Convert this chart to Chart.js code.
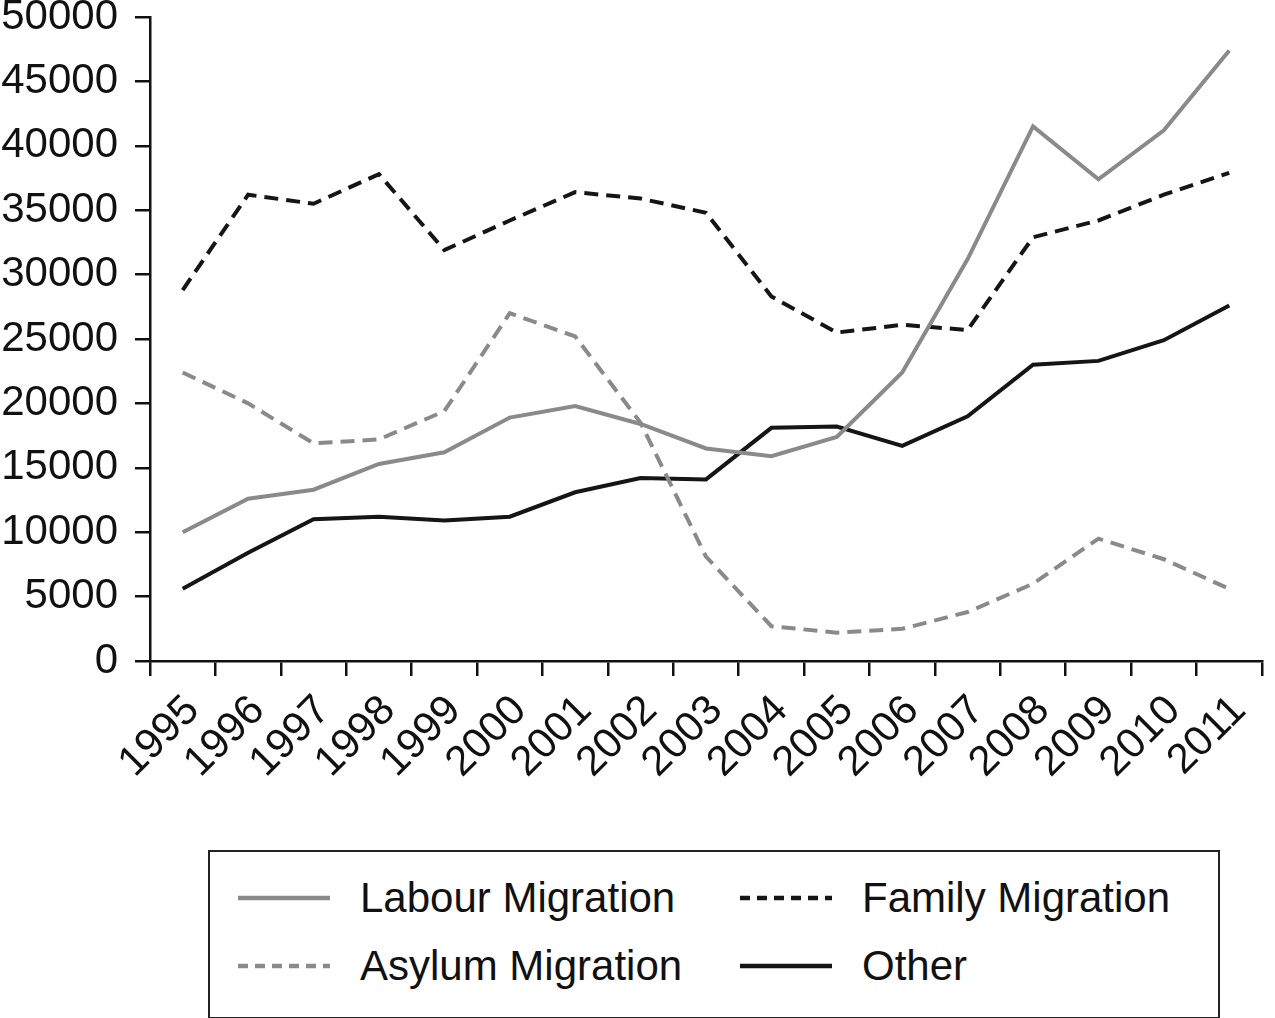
<!DOCTYPE html>
<html>
<head>
<meta charset="utf-8">
<script src="https://cdn.jsdelivr.net/npm/chart.js@4.4.0/dist/chart.umd.min.js"></script>
<style>
    body { margin: 0; background: #fff; font-family: "Liberation Sans", Arial, sans-serif; overflow: hidden; }
    #wrap { position: absolute; left: 0; top: -16px; width: 1275px; height: 856px; }
    #legend { position: absolute; left: 208px; top: 850px; width: 1008px; height: 165px; border: 2px solid #222; }
    .item { position: absolute; height: 50px; display: flex; align-items: center; font-size: 42px; color: #111; white-space: nowrap; }
    .item svg { margin-right: 30px; }
</style>
</head>
<body>
<div id="wrap"><canvas id="migrationChart"></canvas></div>
<div id="legend"></div>
<script>
const years = ['1995', '1996', '1997', '1998', '1999', '2000', '2001', '2002', '2003',
    '2004', '2005', '2006', '2007', '2008', '2009', '2010', '2011'];
const labourMigration = [10000, 12600, 13300, 15300, 16200, 18900, 19800, 18400, 16500,
    15900, 17400, 22400, 31200, 41500, 37400, 41200, 47400];
const familyMigration = [28800, 36200, 35500, 37800, 31900, 34200, 36400, 35900, 34800,
    28300, 25500, 26100, 25700, 32900, 34200, 36200, 37900];
const asylumMigration = [22400, 20000, 16900, 17200, 19400, 27000, 25200, 18500, 8100,
    2700, 2200, 2500, 3800, 6000, 9500, 7900, 5600];
const otherMigration = [5600, 8400, 11000, 11200, 10900, 11200, 13100, 14200, 14100,
    18100, 18200, 16700, 19000, 23000, 23300, 24900, 27600];
const yTicks = [0, 5000, 10000, 15000, 20000, 25000, 30000, 35000, 40000, 45000, 50000];

const grey = '#8a8a8a';
const black = '#151515';

Chart.defaults.font.family = '"Liberation Sans", Arial, sans-serif';
Chart.defaults.color = '#111';

const ctx = document.getElementById('migrationChart');
const chart = new Chart(ctx, {
    type: 'line',
    data: {
        labels: years,
        datasets: [
            { label: 'Labour Migration', data: labourMigration, borderColor: grey, borderWidth: 4, borderDash: [] },
            { label: 'Family Migration', data: familyMigration, borderColor: black, borderWidth: 4, borderDash: [14, 8] },
            { label: 'Asylum Migration', data: asylumMigration, borderColor: grey, borderWidth: 4, borderDash: [14, 8] },
            { label: 'Other', data: otherMigration, borderColor: black, borderWidth: 4, borderDash: [] }
        ]
    },
    options: {
        responsive: true,
        maintainAspectRatio: false,
        animation: false,
        elements: {
            point: { radius: 0 },
            line: { tension: 0 }
        },
        layout: {
            padding: { left: 0, right: 3, top: 0, bottom: 0 }
        },
        plugins: {
            legend: false,
            tooltip: { enabled: false }
        },
        scales: {
            x: {
                offset: true,
                grid: {
                    offset: true,
                    drawOnChartArea: false,
                    color: '#111',
                    lineWidth: 2.5,
                    tickLength: 15
                },
                border: { color: '#111', width: 2.5 },
                ticks: {
                    autoSkip: false,
                    maxRotation: 45,
                    minRotation: 45,
                    padding: 10,
                    labelOffset: 10,
                    color: '#111',
                    font: { size: 42 }
                },
                afterFit: (scale) => { scale.height = 179; }
            },
            y: {
                min: 0,
                max: 50000,
                grid: {
                    drawOnChartArea: false,
                    color: '#111',
                    lineWidth: 2.5,
                    tickLength: 15
                },
                border: { color: '#111', width: 2.5 },
                afterBuildTicks: (scale) => { scale.ticks = yTicks.map(v => ({ value: v })); },
                ticks: {
                    padding: 17,
                    color: '#111',
                    font: { size: 42, lineHeight: 0.76 },
                    callback: (value) => String(value)
                },
                afterFit: (scale) => { scale.width = 150; }
            }
        }
    }
});

// legend box built from the datasets
const legend = document.getElementById('legend');
chart.data.datasets.forEach((ds, i) => {
    const col = i % 2, row = Math.floor(i / 2);
    const item = document.createElement('div');
    item.className = 'item';
    item.style.left = (28 + col * 502) + 'px';
    item.style.top = (21 + row * 68) + 'px';
    const dash = ds.borderDash.length ? 'stroke-dasharray="10,7"' : '';
    item.innerHTML = '<svg width="92" height="10"><line x1="0" y1="5" x2="92" y2="5" stroke="' +
        ds.borderColor + '" stroke-width="4.5" ' + dash + '/></svg><span>' + ds.label + '</span>';
    legend.appendChild(item);
});
</script>
</body>
</html>
